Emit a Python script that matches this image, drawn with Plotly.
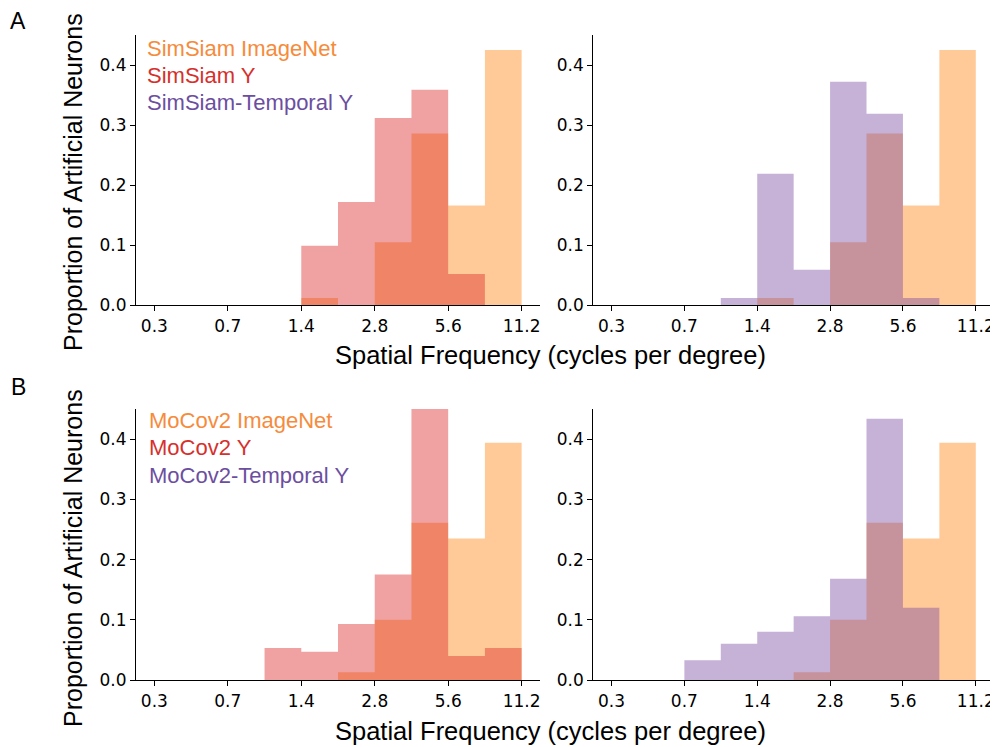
import numpy as np
import plotly.graph_objects as go

# ---- data ----
bin_edges = [0.35 * 2 ** (k / 2) for k in range(11)]  # half-octave bins, 0.35 .. 11.2
tick_vals = [0.35, 0.7, 1.4, 2.8, 5.6, 11.2]
tick_text = ["0.3", "0.7", "1.4", "2.8", "5.6", "11.2"]
y_ticks = [0.0, 0.1, 0.2, 0.3, 0.4]

simsiam_imagenet = [0, 0, 0, 0, 0.012, 0, 0.105, 0.286, 0.166, 0.425]
simsiam_y = [0, 0, 0, 0, 0.099, 0.172, 0.312, 0.359, 0.052, 0]
simsiam_temporal_y = [0, 0, 0, 0.012, 0.219, 0.059, 0.372, 0.319, 0.012, 0]

mocov2_imagenet = [0, 0, 0, 0, 0, 0.013, 0.100, 0.261, 0.235, 0.394]
mocov2_y = [0, 0, 0, 0.053, 0.047, 0.093, 0.175, 0.539, 0.040, 0.053]
mocov2_temporal_y = [0, 0, 0.033, 0.060, 0.080, 0.106, 0.168, 0.434, 0.120, 0]

legend_a = ["SimSiam ImageNet", "SimSiam Y", "SimSiam-Temporal Y"]
legend_b = ["MoCov2 ImageNet", "MoCov2 Y", "MoCov2-Temporal Y"]

# ---- styles ----
OFF = 8  # page body margin in the browser
W, H = 998 - OFF, 747 - OFF
FILL_ORANGE = "rgba(255,140,30,0.46)"
FILL_RED = "rgba(220,40,40,0.43)"
FILL_PURPLE = "rgba(120,70,160,0.42)"
TXT_ORANGE = "#f68b3c"
TXT_RED = "#d6302d"
TXT_PURPLE = "#6c4ea0"
TICK_FONT = dict(family="DejaVu Sans", size=17, color="black")
LABEL_FONT = "Liberation Sans, Arial, sans-serif"


def px_x(x):
    return (x - OFF) / W


def px_y(y):
    return 1 - (y - OFF) / H


fig = go.Figure()

# panels: (xaxis id, yaxis id, x-domain px, y-domain px) in window pixels
panels = [
    ("x", "y", (136, 540), (35, 305.3)),
    ("x2", "y2", (593.3, 994), (35, 305.3)),
    ("x3", "y3", (136, 540), (409, 680)),
    ("x4", "y4", (593.3, 994), (409, 680)),
]

series = [
    (0, [(simsiam_imagenet, FILL_ORANGE), (simsiam_y, FILL_RED)]),
    (1, [(simsiam_imagenet, FILL_ORANGE), (simsiam_temporal_y, FILL_PURPLE)]),
    (2, [(mocov2_imagenet, FILL_ORANGE), (mocov2_y, FILL_RED)]),
    (3, [(mocov2_imagenet, FILL_ORANGE), (mocov2_temporal_y, FILL_PURPLE)]),
]

for idx, lst in series:
    xa, ya, _, _ = panels[idx]
    for vals, col in lst:
        fig.add_trace(go.Scatter(
            x=bin_edges,
            y=list(vals) + [vals[-1]],
            mode="lines",
            line=dict(width=0, shape="hv"),
            fill="tozeroy",
            fillcolor=col,
            xaxis=xa, yaxis=ya,
            showlegend=False,
            hoverinfo="skip",
        ))

lo = np.log10(bin_edges[0]) - 0.25 * np.log10(2)
hi = np.log10(bin_edges[-1]) + 0.25 * np.log10(2)

layout = dict(width=W, height=H, margin=dict(l=0, r=0, t=0, b=0),
              plot_bgcolor="white", paper_bgcolor="white", showlegend=False)

for i, (xa, ya, (x0, x1), (yt, yb)) in enumerate(panels):
    xkey = "xaxis" if xa == "x" else "xaxis" + xa[1:]
    ykey = "yaxis" if ya == "y" else "yaxis" + ya[1:]
    layout[xkey] = dict(
        domain=[px_x(x0), px_x(x1)], anchor=ya, type="log",
        range=[lo, hi], tickvals=tick_vals, ticktext=tick_text,
        ticks="outside", ticklen=5, tickwidth=1, tickcolor="black",
        showline=True, linecolor="black", linewidth=1.2,
        showgrid=False, zeroline=False, tickfont=TICK_FONT,
        automargin=False,
    )
    layout[ykey] = dict(
        domain=[px_y(yb), px_y(yt)], anchor=xa, range=[0, 0.45],
        tickvals=y_ticks, tickformat=".1f",
        ticks="outside", ticklen=5, tickwidth=1, tickcolor="black",
        showline=True, linecolor="black", linewidth=1.2,
        showgrid=False, zeroline=False, tickfont=TICK_FONT,
        automargin=False,
    )

fig.update_layout(**layout)

annotations = []


def add_text(text, x, y, size, color="black", xanchor="center", yanchor="middle", angle=0):
    annotations.append(dict(
        text=text, x=px_x(x), y=px_y(y), xref="paper", yref="paper",
        xanchor=xanchor, yanchor=yanchor, showarrow=False, textangle=angle,
        font=dict(family=LABEL_FONT, size=size, color=color),
    ))


# panel letters
add_text("A", 18, 21, 23)
add_text("B", 18, 387, 23)

# legends (colored text)
for lbls, ys, xl in [(legend_a, [49, 76, 103], 145), (legend_b, [421, 448, 475], 147)]:
    for lbl, yy, col in zip(lbls, ys, [TXT_ORANGE, TXT_RED, TXT_PURPLE]):
        add_text(lbl, xl, yy, 22, color=col, xanchor="left")

# axis titles
add_text("Proportion of Artificial Neurons", 73, 182, 25, angle=-90)
add_text("Proportion of Artificial Neurons", 73, 558, 25, angle=-90)
add_text("Spatial Frequency (cycles per degree)", 550, 355, 25.5)
add_text("Spatial Frequency (cycles per degree)", 550, 731, 25.5)

fig.update_layout(annotations=annotations)

fig.write_html("out.html")
